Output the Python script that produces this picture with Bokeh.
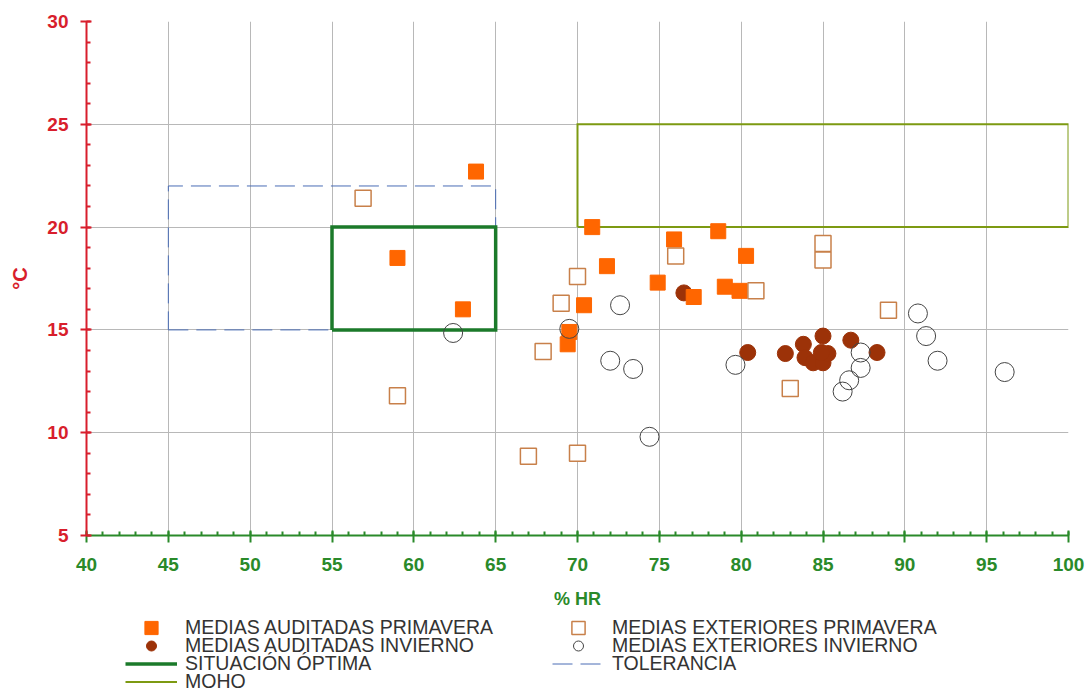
from bokeh.plotting import figure
from bokeh.layouts import column
from bokeh.models import Range1d, Legend, LegendItem, SingleIntervalTicker
from bokeh.embed import file_html
from bokeh.resources import INLINE

# ---- data ----
aud_prim_x = [63.8, 59.0, 63.0, 70.9, 71.8, 75.9, 78.6, 80.3, 74.9, 70.4, 69.5, 69.4, 77.1, 79.0, 79.9]
aud_prim_y = [22.7, 18.5, 16.0, 20.0, 18.1, 19.4, 19.8, 18.6, 17.3, 16.2, 14.9, 14.3, 16.6, 17.1, 16.9]

aud_inv_x = [76.5, 80.4, 82.7, 83.8, 85.0, 83.9, 84.4, 85.0, 85.3, 84.9, 86.7, 88.3]
aud_inv_y = [16.8, 13.9, 13.85, 14.3, 14.7, 13.65, 13.4, 13.4, 13.85, 13.9, 14.5, 13.9]

ext_prim_x = [56.9, 59.0, 67.0, 70.0, 67.9, 69.0, 70.0, 76.0, 85.0, 85.0, 80.9, 83.0, 89.0]
ext_prim_y = [21.4, 11.8, 8.85, 9.0, 13.95, 16.3, 17.6, 18.6, 19.2, 18.4, 16.9, 12.15, 15.95]

ext_inv_x = [62.4, 69.5, 72.6, 72.0, 73.4, 74.4, 79.65, 87.3, 87.3, 86.6, 86.2, 90.8, 91.3, 92.0, 96.1]
ext_inv_y = [14.85, 15.05, 16.2, 13.5, 13.1, 9.8, 13.3, 13.9, 13.15, 12.55, 12.0, 15.8, 14.7, 13.5, 12.95]

# comfort / tolerance / mould zones: [x_min, x_max, y_min, y_max]
optima_box = [55, 65, 15, 20]
tolerancia_box = [45, 65, 15, 22]
moho_box = [70, 100, 20, 25]

x_limits = [40, 100]
y_limits = [5, 30]

series_labels = ["MEDIAS AUDITADAS PRIMAVERA", "MEDIAS AUDITADAS INVIERNO", "SITUACIÓN ÓPTIMA", "MOHO",
                 "MEDIAS EXTERIORES PRIMAVERA", "MEDIAS EXTERIORES INVIERNO", "TOLERANCIA"]


def box_path(b):
    x0, x1, y0, y1 = b
    return [x0, x1, x1, x0, x0], [y0, y0, y1, y1, y0]


FONT = "Liberation Sans"
RED = "#d81e2c"
GREEN = "#2a8a2a"

# styles shared by the chart and the legend
STY_AP = dict(marker="square", fill_color="#ff6600", line_color="#ff6600")
STY_AI = dict(marker="circle", fill_color="#9c3208", line_color="#9c3208")
STY_EP = dict(marker="square", fill_color="white", line_color="#c8804a", line_width=1.5)
STY_EI = dict(marker="circle", fill_color=None, line_color="#444444", line_width=1)
STY_TOL = dict(line_color="#4a6db5", line_width=1, line_dash="20 8")
STY_OPT = dict(line_color="#1b7a2a", line_width=3.5, line_join="miter")
STY_MOHO = dict(line_color="#7d9a12", line_width=2, line_join="miter")

p = figure(width=1088, height=615, x_range=Range1d(*x_limits), y_range=Range1d(*y_limits),
           output_backend="svg", toolbar_location=None,
           min_border_left=86, min_border_right=20, min_border_top=21, min_border_bottom=80)
p.outline_line_color = None
p.background_fill_color = "white"

# axes
p.xaxis.ticker = SingleIntervalTicker(interval=5, num_minor_ticks=5)
p.yaxis.ticker = SingleIntervalTicker(interval=5, num_minor_ticks=5)
p.xgrid.ticker = SingleIntervalTicker(interval=5)
p.ygrid.ticker = SingleIntervalTicker(interval=5)
for g in (p.xgrid, p.ygrid):
    g.grid_line_color = "#b8b8b8"
    g.grid_line_width = 1

ax = p.xaxis[0]
ax.axis_label = "% HR"
ax.axis_label_text_font = FONT
ax.axis_label_text_font_style = "bold"
ax.axis_label_text_font_size = "18px"
ax.axis_label_text_color = GREEN
ax.axis_label_standoff = 15
ax.major_label_text_font = FONT
ax.major_label_text_font_style = "bold"
ax.major_label_text_font_size = "19px"
ax.major_label_text_color = GREEN
ax.major_label_standoff = 15
ax.axis_line_color = GREEN
ax.axis_line_width = 2
ax.major_tick_line_color = GREEN
ax.major_tick_line_width = 2
ax.major_tick_in = 5
ax.major_tick_out = 7
ax.minor_tick_line_color = GREEN
ax.minor_tick_line_width = 2
ax.minor_tick_in = 4
ax.minor_tick_out = 0

ay = p.yaxis[0]
ay.axis_label = "°C"
ay.axis_label_text_font = FONT
ay.axis_label_text_font_style = "bold"
ay.axis_label_text_font_size = "20px"
ay.axis_label_text_color = RED
ay.axis_label_standoff = 13
ay.major_label_text_font = FONT
ay.major_label_text_font_style = "bold"
ay.major_label_text_font_size = "19px"
ay.major_label_text_color = RED
ay.major_label_standoff = 12
ay.axis_line_color = RED
ay.axis_line_width = 2
ay.major_tick_line_color = RED
ay.major_tick_line_width = 2
ay.major_tick_in = 5
ay.major_tick_out = 6
ay.minor_tick_line_color = RED
ay.minor_tick_line_width = 2
ay.minor_tick_in = 4
ay.minor_tick_out = 0

# zones
tx, ty = box_path(tolerancia_box)
p.line(tx, ty, **STY_TOL)
ox, oy = box_path(optima_box)
p.line(ox, oy, **STY_OPT)
mx, my = box_path(moho_box)
p.line(mx, my, **STY_MOHO)

# points
p.scatter(aud_inv_x, aud_inv_y, size=16, **STY_AI)
p.scatter(aud_prim_x, aud_prim_y, size=15, **STY_AP)
p.scatter(ext_prim_x, ext_prim_y, size=16, **STY_EP)
p.scatter(ext_inv_x, ext_inv_y, size=19, **STY_EI)

# ---- legend strip below the chart ----
# (the series are re-drawn here outside this strip's view so the legend can show their glyphs)
leg = figure(width=1088, height=75, x_range=Range1d(0, 1), y_range=Range1d(0, 1),
             output_backend="svg", toolbar_location=None, min_border=0,
             x_axis_type=None, y_axis_type=None)
leg.outline_line_color = None
leg.xgrid.visible = False
leg.ygrid.visible = False

proxies = [
    leg.scatter(aud_prim_x, aud_prim_y, **STY_AP),
    leg.scatter(aud_inv_x, aud_inv_y, **STY_AI),
    leg.line(ox, oy, **STY_OPT),
    leg.line(mx, my, **STY_MOHO),
    leg.scatter(ext_prim_x, ext_prim_y, **STY_EP),
    leg.scatter(ext_inv_x, ext_inv_y, **STY_EI),
    leg.line(tx, ty, **STY_TOL),
]
items = [LegendItem(label=lab, renderers=[r]) for lab, r in zip(series_labels, proxies)]

# two columns, four tightly packed rows: one horizontal legend per row
rows = [[items[0], items[4]], [items[1], items[5]], [items[2], items[6]], [items[3]]]
row_centers = [63, 45, 27, 9]          # px from the strip's bottom
glyph_heights = [33, 25, 23, 23]
for row_items, yc, gh in zip(rows, row_centers, glyph_heights):
    lg = Legend(items=row_items, orientation="horizontal", location=(39, yc - gh / 2),
                glyph_width=52, glyph_height=gh, label_height=18, spacing=0,
                padding=0, margin=0, label_standoff=8, label_width=367,
                border_line_color=None, background_fill_alpha=0,
                label_text_font=FONT, label_text_font_size="19.5px",
                label_text_color="#333333")
    leg.add_layout(lg, "center")

layout = column(p, leg, spacing=0)
open("out.html", "w").write(file_html(layout, INLINE))
